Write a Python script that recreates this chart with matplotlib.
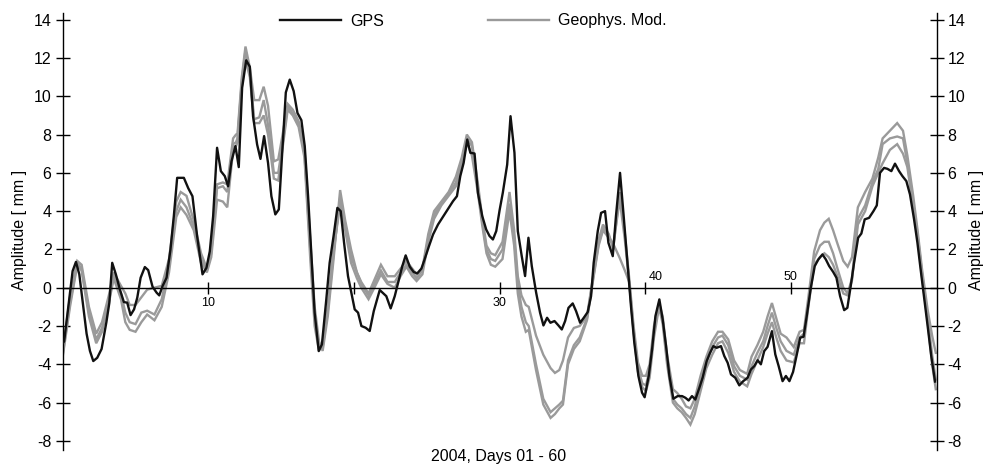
import matplotlib
matplotlib.use("Agg")
import matplotlib.pyplot as plt

plt.rcParams['font.family'] = ['Liberation Sans', 'DejaVu Sans']
plt.rcParams['axes.unicode_minus'] = False

# ---------------- data ----------------
gps_days = [0.0, 0.1, 0.68, 0.91, 1.14, 1.64, 1.87, 2.1, 2.37, 2.67, 3.0, 3.2, 3.4, 3.65, 3.93,
            4.2, 4.43, 4.66, 4.9, 5.12, 5.35, 5.64, 5.87, 6.17, 6.45, 6.63, 6.86, 7.13, 7.4,
            7.63, 7.86, 8.32, 8.62, 8.91, 9.23, 9.6, 9.87, 10.1, 10.33, 10.6, 10.86, 11.13,
            11.36, 11.59, 11.86, 12.09, 12.32, 12.6, 12.85, 13.07, 13.35, 13.58, 13.83, 14.1,
            14.33, 14.6, 14.84, 15.06, 15.32, 15.59, 15.86, 16.12, 16.39, 16.62, 16.85, 17.08,
            17.3, 17.58, 17.8, 18.1, 18.33, 18.6, 18.86, 19.09, 19.32, 19.59, 19.82, 20.05,
            20.28, 20.51, 20.8, 21.08, 21.36, 21.77, 22.22, 22.52, 22.8, 23.09, 23.32, 23.55,
            23.83, 24.1, 24.35, 24.63, 24.85, 25.15, 25.43, 25.77, 26.11, 26.45, 26.8, 27.07,
            27.3, 27.53, 27.78, 27.99, 28.28, 28.51, 28.81, 29.08, 29.31, 29.54, 29.77, 30.0,
            30.22, 30.52, 30.75, 31.02, 31.25, 31.52, 31.75, 31.98, 32.21, 32.51, 32.78, 33.01,
            33.26, 33.49, 33.77, 34.04, 34.27, 34.5, 34.73, 35.02, 35.25, 35.53, 35.78, 36.05,
            36.28, 36.46, 36.74, 36.97, 37.24, 37.47, 37.77, 37.99, 38.27, 38.52, 38.8, 39.02,
            39.25, 39.53, 39.78, 39.96, 40.24, 40.47, 40.7, 40.97, 41.2, 41.43, 41.66, 41.93,
            42.23, 42.53, 42.76, 42.98, 43.21, 43.44, 43.72, 43.94, 44.22, 44.45, 44.68, 44.9,
            45.2, 45.43, 45.66, 45.89, 46.18, 46.46, 46.73, 47.03, 47.26, 47.49, 47.72, 47.94,
            48.17, 48.4, 48.7, 48.93, 49.16, 49.43, 49.66, 49.9, 50.15, 50.41, 50.64, 50.87,
            51.09, 51.37, 51.64, 51.89, 52.17, 52.4, 52.63, 52.9, 53.13, 53.38, 53.66, 53.88,
            54.11, 54.34, 54.62, 54.84, 55.07, 55.37, 55.67, 55.9, 56.12, 56.4, 56.63, 56.9,
            57.15, 57.43, 57.66, 57.93, 58.18, 58.46, 58.69, 58.91, 59.14, 59.42, 59.64, 59.9]
gps_vals = [-2.9, -2.8, 0.87, 1.35, 0.7, -2.4, -3.3, -3.83, -3.66, -3.2, -1.8, -0.8, 1.3, 0.7, -0.1,
            -0.75, -0.78, -1.43, -1.13, -0.52, 0.52, 1.08, 0.92, 0.05, -0.26, -0.4, 0.09, 0.52, 2.0,
            3.74, 5.74, 5.74, 5.2, 4.78, 2.7, 0.7, 1.04, 1.9, 3.74, 7.31, 6.09, 5.83,
            5.3, 6.6, 7.4, 6.3, 10.44, 11.88, 11.54, 8.96, 7.48, 6.73, 7.92, 6.52,
            4.78, 3.83, 4.09, 6.87, 10.2, 10.87, 10.27, 9.13, 8.75, 7.4, 4.78, 1.65,
            -1.31, -3.31, -2.96, -0.61, 1.3, 2.7, 4.17, 4.0, 2.35, 0.61, -0.26, -1.13,
            -1.3, -2.0, -2.09, -2.26, -1.22, -0.12, -0.44, -1.08, -0.44, 0.43, 1.13, 1.69,
            1.1, 0.82, 0.75, 1.0, 1.48, 2.17, 2.78, 3.3, 3.7, 4.09, 4.52, 4.78,
            5.83, 6.52, 7.74, 7.05, 7.01, 4.96, 3.74, 3.04, 2.7, 2.52, 2.96, 4.05,
            4.96, 6.43, 8.96, 7.05, 2.96, 1.65, 0.61, 2.61, 1.13, -0.26, -1.31, -1.97,
            -1.57, -1.83, -1.74, -1.97, -2.18, -1.74, -1.05, -0.82, -1.22, -1.83, -1.57, -1.27,
            -0.44, 1.3, 2.96, 3.91, 4.0, 2.35, 1.65, 3.74, 6.0, 3.74, 1.13, -0.96,
            -2.87, -4.61, -5.48, -5.72, -4.61, -3.22, -1.48, -0.61, -1.66, -3.05, -4.61, -5.8,
            -5.66, -5.66, -5.75, -5.89, -5.66, -5.84, -5.22, -4.7, -3.83, -3.4, -3.05, -3.14,
            -3.05, -3.57, -3.92, -4.53, -4.7, -5.1, -4.88, -4.7, -4.27, -4.09, -3.79, -4.0,
            -3.31, -3.09, -2.27, -3.48, -4.09, -4.88, -4.61, -4.88, -4.4, -3.48, -2.61, -2.56,
            -1.48, 0.0, 1.13, 1.48, 1.74, 1.48, 1.13, 0.83, 0.52, -0.44, -1.17, -1.05,
            0.09, 1.3, 2.61, 2.83, 3.57, 3.65, 4.0, 4.3, 6.0, 6.26, 6.21, 6.09,
            6.48, 6.09, 5.83, 5.57, 4.87, 3.57, 2.35, 0.96, -0.44, -2.18, -3.57, -4.9]

mod_days = [0.0, 0.5, 1.0, 1.3, 1.8, 2.3, 2.7, 3.2, 3.5, 4.0, 4.3, 4.6, 5.0, 5.4, 5.8, 6.3, 6.8,
            7.3, 7.8, 8.1, 8.5, 9.0, 9.5, 9.9, 10.2, 10.6, 11.0, 11.3, 11.7, 11.9, 12.0, 12.3,
            12.55, 12.85, 13.15, 13.5, 13.8, 14.1, 14.5, 14.8, 15.1, 15.45, 15.8, 16.2, 16.6,
            17.0, 17.3, 17.6, 17.85, 18.2, 18.6, 19.05, 19.4, 19.8, 20.2, 20.5, 21.0, 21.4,
            21.85, 22.3, 22.8, 23.2, 23.6, 24.0, 24.3, 24.7, 25.1, 25.5, 26.0, 26.5, 27.0,
            27.4, 27.75, 28.1, 28.5, 28.8, 29.1, 29.4, 29.7, 30.2, 30.68, 31.0, 31.25, 31.5,
            31.8, 32.0, 32.5, 33.0, 33.5, 33.8, 34.1, 34.35, 34.7, 35.1, 35.5, 36.0, 36.4,
            36.8, 37.1, 37.5, 37.8, 38.25, 38.6, 38.9, 39.2, 39.5, 39.8, 40.05, 40.3, 40.6,
            40.95, 41.2, 41.5, 41.9, 42.2, 42.5, 42.8, 43.1, 43.4, 43.8, 44.2, 44.6, 45.0,
            45.3, 45.7, 46.1, 46.5, 47.0, 47.3, 47.7, 48.1, 48.4, 48.7, 49.0, 49.3, 49.7,
            50.2, 50.6, 50.9, 51.2, 51.6, 52.0, 52.3, 52.6, 52.9, 53.2, 53.6, 53.9, 54.2,
            54.6, 55.1, 55.6, 56.0, 56.3, 56.8, 57.3, 57.7, 58.0, 58.4, 58.7, 59.0, 59.4,
            59.7, 59.95]
mod_a = [-3.3, -0.5, 1.4, 1.2, -1.0, -2.4, -1.8, -0.3, 0.8, 0.1, -0.3, -0.9, -0.9, -0.5, -0.1, 0.0, 0.1,
         1.5, 4.5, 5.0, 4.8, 3.5, 1.8, 1.0, 2.0, 5.4, 5.5, 5.4, 7.8, 8.0, 8.0, 11.0,
         12.6, 11.5, 9.8, 9.8, 10.5, 9.5, 6.6, 6.7, 8.0, 9.6, 9.3, 8.7, 7.3,
         2.5, -1.0, -2.8, -3.3, -1.5, 1.5, 5.1, 3.5, 2.0, 0.8, 0.3, -0.3, 0.4,
         1.2, 0.6, 0.6, 1.0, 1.4, 1.0, 0.7, 1.0, 2.8, 4.0, 4.5, 5.0, 5.8,
         6.8, 8.0, 7.6, 5.5, 3.7, 2.2, 1.8, 1.7, 2.4, 5.0, 3.0, 0.6, -0.4,
         -0.9, -1.0, -2.5, -3.5, -4.2, -4.45, -4.3, -3.8, -2.6, -2.1, -2.0, -1.5, 0.5,
         2.5, 3.3, 2.8, 2.0, 5.0, 2.8, 0.5, -2.0, -3.9, -4.6, -4.6, -4.0, -2.0,
         -0.8, -1.5, -3.5, -5.3, -5.5, -5.8, -6.2, -6.3, -5.8, -4.6, -3.6, -2.8, -2.3,
         -2.3, -2.7, -3.8, -4.3, -4.5, -3.6, -3.0, -2.3, -1.5, -0.8, -1.6, -2.4, -2.6,
         -3.1, -2.3, -2.2, -0.5, 1.9, 3.0, 3.4, 3.6, 3.0, 2.3, 1.4, 1.1, 1.6,
         4.2, 5.0, 5.7, 6.8, 7.8, 8.2, 8.6, 8.2, 6.9, 4.8, 3.0, 1.0, -1.2,
         -2.5, -3.4]
mod_b = [-3.5, -0.8, 1.3, 1.0, -1.3, -2.7, -2.1, -0.6, 0.6, -0.3, -1.3, -1.8, -1.9, -1.3, -1.2, -1.4, -0.6,
         1.2, 4.0, 4.6, 4.2, 3.2, 1.5, 0.9, 1.8, 5.2, 5.3, 5.0, 7.5, 7.6, 7.8, 10.8,
         12.4, 11.2, 8.8, 8.9, 9.8, 8.5, 6.0, 6.0, 7.5, 9.5, 9.1, 8.6, 7.0,
         2.0, -1.5, -3.1, -3.1, -1.2, 1.8, 4.7, 3.3, 1.6, 0.8, 0.2, -0.4, 0.2,
         0.9, 0.3, 0.3, 0.8, 1.2, 0.8, 0.5, 0.9, 2.6, 3.8, 4.4, 4.9, 5.5,
         6.6, 7.8, 7.4, 5.3, 3.5, 2.0, 1.5, 1.4, 2.0, 4.4, 2.6, 0.2, -1.0,
         -1.8, -2.0, -4.0, -5.8, -6.5, -6.3, -6.1, -5.9, -3.8, -3.0, -2.6, -1.6, 0.4,
         2.3, 3.1, 2.7, 2.2, 4.6, 2.5, 0.3, -2.2, -4.2, -5.0, -5.1, -4.3, -2.3,
         -0.9, -1.7, -3.8, -5.8, -6.1, -6.3, -6.6, -6.8, -6.2, -5.0, -3.9, -3.1, -2.6,
         -2.5, -3.0, -4.1, -4.6, -4.8, -4.1, -3.4, -2.8, -2.0, -1.3, -2.1, -2.8, -3.3,
         -3.5, -2.6, -2.4, -0.8, 1.5, 2.2, 2.4, 2.4, 1.8, 1.0, 0.0, -0.3, 0.5,
         3.6, 4.3, 5.5, 6.2, 7.5, 7.8, 7.9, 7.8, 6.5, 4.4, 2.8, 0.8, -1.5,
         -3.5, -4.8]
mod_c = [-3.6, -1.0, 1.2, 0.9, -1.5, -2.9, -2.3, -0.7, 0.5, -0.6, -1.8, -2.2, -2.3, -1.8, -1.4, -1.7, -1.0,
         0.8, 3.7, 4.2, 3.8, 3.0, 1.3, 0.8, 1.6, 4.6, 4.5, 4.2, 7.2, 7.4, 7.6, 10.5,
         11.9, 11.0, 8.6, 8.6, 9.0, 8.0, 5.7, 5.6, 7.3, 9.3, 9.0, 8.4, 6.8,
         1.5, -2.0, -3.3, -2.8, -1.0, 2.0, 4.3, 3.0, 1.3, 0.5, 0.0, -0.6, 0.0,
         0.7, 0.2, 0.0, 0.6, 1.1, 0.6, 0.35, 0.7, 2.4, 3.6, 4.3, 4.8, 5.3,
         6.3, 7.6, 6.9, 5.0, 3.3, 1.8, 1.2, 1.1, 1.5, 4.0, 2.2, -0.3, -1.5,
         -2.3, -2.2, -4.3, -6.1, -6.8, -6.6, -6.3, -6.1, -4.0, -3.2, -2.8, -1.7, 0.3,
         2.2, 3.0, 2.6, 2.3, 1.55, 0.9, 0.3, -2.3, -4.4, -5.2, -5.4, -4.7, -2.6,
         -1.0, -1.9, -4.0, -6.0, -6.3, -6.5, -6.8, -7.15, -6.6, -5.4, -4.2, -3.5, -2.9,
         -2.8, -3.4, -4.4, -4.9, -5.15, -4.5, -3.8, -3.1, -2.4, -1.8, -2.6, -3.3, -3.8,
         -3.9, -2.9, -2.9, -1.0, 1.2, 1.6, 1.8, 1.6, 1.2, 0.6, -0.3, -0.4, 0.4,
         3.3, 4.0, 5.3, 6.0, 6.5, 7.2, 7.5, 7.0, 6.3, 4.2, 2.7, 0.6, -1.8,
         -4.0, -5.3]

x_ticks = [10, 20, 30, 40, 50]
x_tick_labels = ['10', '', '30', '40', '50']
y_ticks = list(range(-8, 16, 2))
y_tick_labels = [str(v) for v in y_ticks]

# ---------------- figure ----------------
W, H = 997, 472
fig = plt.figure(figsize=(W / 100, H / 100), dpi=100)
ax = fig.add_axes([62.7 / W, 1 - 449.5 / H, (936.5 - 62.7) / W, (449.5 - 13) / H])

gray = '#9a9a9a'
for k, series in enumerate([mod_a, mod_b, mod_c]):
    ax.plot(mod_days, series, color=gray, lw=1.7, solid_joinstyle='miter',
            label='Geophys. Mod.' if k == 0 else None, zorder=2)
ax.plot(gps_days, gps_vals, color='#111111', lw=1.7, label='GPS', zorder=3)

ax.set_xlim(0, 60)
ax.set_ylim(-8.45, 14.35)

ax.spines['top'].set_visible(False)
ax.spines['bottom'].set_position(('data', 0))
ax.spines['bottom'].set_linewidth(1.0)
ax.spines['left'].set_linewidth(1.0)
ax.spines['right'].set_linewidth(1.0)

ax.set_xticks(x_ticks)
ax.set_xticklabels([])
ax.tick_params(axis='x', direction='inout', length=8.5, width=1.0)

ax.set_yticks(y_ticks)
ax.set_yticklabels(y_tick_labels)
ax.tick_params(axis='y', direction='inout', length=10, width=1.0, labelsize=11.5,
               left=True, right=True, labelleft=True, labelright=True, pad=3)

# x tick labels (placed alternately above / below the zero line)
offsets = {10: (0, -15), 20: (0, -15), 30: (0, -15), 40: (10, 11), 50: (0, 11)}
for t, lab in zip(x_ticks, x_tick_labels):
    if lab:
        dx, dy = offsets[t]
        ax.annotate(lab, xy=(t, 0), xytext=(dx, dy), textcoords='offset pixels',
                    ha='center', va='center', fontsize=9)

fig.text(20 / W, 1 - 230 / H, 'Amplitude [ mm ]', rotation=90, ha='center', va='center',
         fontsize=11.5)
fig.text(976 / W, 1 - 230 / H, 'Amplitude [ mm ]', rotation=90, ha='center', va='center',
         fontsize=11.5)
fig.text(499 / W, 1 - 456 / H, '2004, Days 01 - 60', ha='center', va='center', fontsize=11.5)

handles, labels = ax.get_legend_handles_labels()
order = [labels.index('GPS'), labels.index('Geophys. Mod.')]
leg = fig.legend([handles[i] for i in order], [labels[i] for i in order],
                 loc='center left', bbox_to_anchor=(280 / W, 1 - 21 / H), ncol=2,
                 frameon=False, fontsize=11.5, handlelength=3.8, handletextpad=0.6,
                 columnspacing=6.5, borderpad=0, borderaxespad=0)

fig.savefig('out.png', dpi=100)
